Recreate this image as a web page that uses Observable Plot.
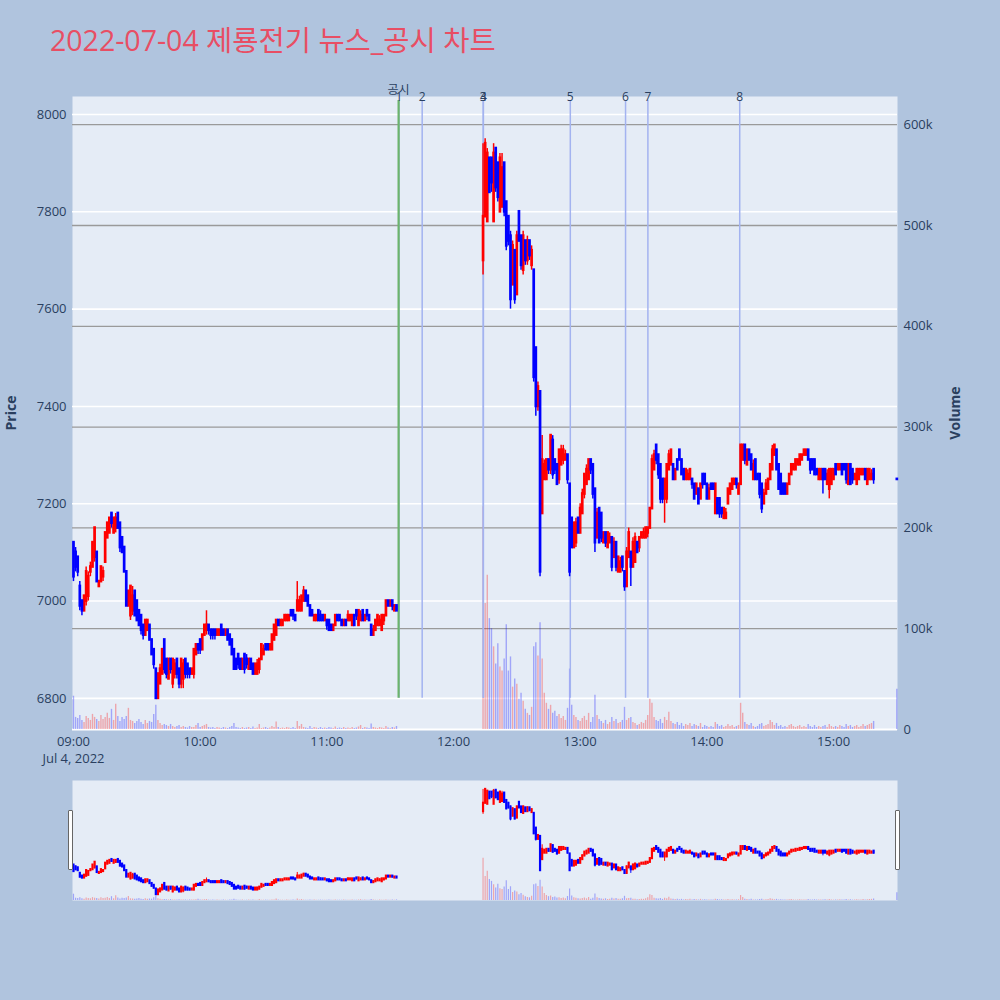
<!DOCTYPE html>
<html><head><meta charset="utf-8">
<script src="https://cdn.jsdelivr.net/npm/d3@7"></script>
<script src="https://cdn.jsdelivr.net/npm/@observablehq/plot@0.6"></script>
<style>
body{margin:0;background:#B0C4DE;}
#wrap{position:relative;width:1000px;height:1000px;background:#B0C4DE;overflow:hidden;font-family:"Open Sans",sans-serif;}
#wrap svg{position:absolute;left:0;}
.txt{position:absolute;white-space:nowrap;}
</style></head><body><div id="wrap"></div>
<script>
// ---------------- data ----------------
const sessionDate = "2022-07-04";
const morningStart = "09:00";
// [open, high, low, close] per minute from 09:00
const morningCandles = [
[7120,7120,7040,7050],[7100,7110,7060,7070],[7090,7090,7050,7060],[7030,7040,6980,6990],[7000,7000,6970,6980],[6980,7010,6980,7010],[7000,7070,6990,7060],[7010,7060,7000,7050],[7060,7080,7050,7070],[7070,7120,7070,7120],
[7090,7150,7080,7150],[7100,7100,7040,7040],[7030,7040,7030,7040],[7040,7070,7040,7070],[7050,7070,7040,7060],[7080,7140,7080,7140],[7130,7160,7130,7160],[7140,7170,7140,7170],[7180,7180,7150,7160],[7140,7170,7140,7170],
[7150,7180,7140,7170],[7180,7180,7150,7150],[7160,7160,7100,7110],[7130,7130,7100,7100],[7110,7110,7060,7060],[7060,7060,6990,6990],[6990,7020,6990,7020],[6970,7030,6960,7030],[6980,7030,6970,7010],[7020,7020,6970,6970],
[7000,7000,6960,6960],[6980,6980,6950,6950],[6970,6970,6930,6940],[6950,6950,6920,6930],[6930,6960,6930,6960],[6940,6960,6940,6960],[6950,6950,6920,6920],[6920,6920,6890,6890],[6900,6900,6860,6870],[6860,6860,6800,6800],
[6800,6850,6800,6850],[6830,6870,6830,6860],[6850,6900,6850,6900],[6920,6920,6850,6860],[6880,6880,6840,6850],[6840,6880,6840,6880],[6880,6880,6850,6860],[6830,6880,6820,6880],[6850,6880,6840,6870],[6880,6880,6840,6850],
[6860,6860,6820,6830],[6830,6880,6820,6880],[6840,6880,6820,6870],[6880,6880,6840,6850],[6870,6870,6840,6850],[6860,6860,6840,6850],[6850,6860,6850,6860],[6850,6900,6840,6900],[6890,6910,6890,6910],[6910,6910,6890,6900],
[6920,6920,6890,6900],[6900,6930,6900,6930],[6930,6950,6930,6950],[6940,6980,6930,6950],[6950,6950,6930,6940],[6940,6940,6920,6930],[6940,6940,6920,6930],[6940,6940,6920,6930],[6930,6940,6930,6940],[6930,6940,6930,6940],
[6950,6950,6930,6930],[6940,6940,6930,6930],[6930,6940,6930,6940],[6940,6940,6920,6920],[6930,6930,6910,6910],[6920,6920,6890,6890],[6900,6900,6860,6860],[6880,6880,6860,6860],[6890,6890,6860,6870],[6880,6880,6860,6860],
[6860,6880,6860,6880],[6890,6890,6850,6860],[6880,6890,6860,6870],[6860,6880,6860,6880],[6880,6880,6860,6860],[6870,6870,6850,6850],[6850,6870,6850,6870],[6850,6880,6850,6870],[6860,6880,6850,6880],[6880,6910,6880,6910],
[6890,6910,6890,6900],[6910,6910,6900,6900],[6910,6910,6900,6900],[6900,6910,6900,6910],[6900,6930,6900,6930],[6920,6950,6920,6950],[6930,6960,6930,6960],[6960,6960,6950,6950],[6950,6960,6950,6960],[6950,6960,6950,6960],
[6960,6970,6960,6970],[6960,6970,6960,6970],[6960,6970,6960,6970],[6980,6980,6970,6970],[6980,6980,6960,6970],[6970,6970,6960,6960],[6980,7040,6980,7000],[6980,7010,6980,7000],[6980,7010,6980,7010],[7000,7030,7000,7020],
[7020,7020,7000,7000],[7010,7010,6990,6990],[6990,6990,6970,6970],[6980,6980,6970,6970],[6960,6970,6960,6970],[6960,6970,6960,6970],[6980,6980,6960,6960],[6970,6980,6960,6960],[6970,6970,6960,6960],[6960,6970,6960,6970],
[6960,6960,6940,6950],[6960,6960,6940,6940],[6950,6950,6940,6940],[6940,6950,6940,6950],[6950,6970,6950,6970],[6970,6970,6960,6960],[6970,6970,6960,6960],[6960,6960,6950,6950],[6950,6960,6950,6960],[6960,6960,6950,6950],
[6960,6980,6960,6970],[6960,6970,6960,6970],[6950,6970,6950,6970],[6970,6970,6950,6950],[6980,6980,6960,6970],[6950,6980,6950,6980],[6960,6980,6960,6970],[6980,6980,6960,6960],[6960,6970,6960,6970],[6980,6980,6960,6970],
[6970,6970,6960,6960],[6950,6950,6930,6930],[6930,6950,6930,6940],[6940,6960,6940,6960],[6950,6970,6950,6970],[6950,6970,6950,6960],[6940,6970,6940,6970],[6960,6970,6950,6970],[6970,7000,6970,7000],[7000,7000,6990,6990],
[6990,7000,6990,7000],[7000,7000,6980,6990],[6980,6990,6980,6990],[6990,6990,6980,6980]
];
const morningVolume = [
33000,12000,11000,14000,9000,7000,13000,11000,9000,15000,
12000,10000,8000,14000,10000,12000,16000,11000,20000,9000,
25000,13000,8000,12000,10000,13000,21000,9000,8000,6000,
8000,10000,7000,5000,9000,6000,8000,7000,15000,24000,
9000,6000,4000,5000,4000,3000,5000,3000,2000,3000,
4000,2000,3000,2000,1500,3000,2000,2000,4000,6000,
2000,3000,4000,5000,2000,1500,2000,1000,2000,1500,
1000,2000,1500,1000,2000,3000,6000,2000,1500,1000,
2000,1000,1500,2000,1000,2500,1000,1500,5000,1000,
1500,2000,1000,1500,3000,2000,7500,2000,1000,1500,
1000,2000,1500,1000,2000,1000,8000,3000,5000,2000,
1500,1000,3000,1000,2000,1500,1000,2000,1000,1500,
1000,2000,1500,1000,2500,1000,1500,1000,2000,1000,
1500,1000,2000,1000,1500,2500,4000,1000,2000,1500,
1000,5500,2000,1500,1000,2000,1500,1000,3000,1500,
1000,2000,1500,3000
];
const afternoonStart = "12:14";
const afternoonCandles = [
[7700,7940,7670,7790],[7790,7950,7790,7940],[7780,7930,7780,7920],[7910,7910,7840,7840],[7910,7910,7840,7860],[7780,7940,7780,7920],[7930,7930,7840,7850],[7900,7900,7820,7830],[7800,7920,7800,7910],[7810,7920,7810,7890],
[7900,7900,7790,7800],[7820,7820,7720,7730],[7790,7790,7730,7740],[7750,7760,7600,7620],[7650,7740,7650,7730],[7720,7720,7610,7620],[7630,7760,7630,7750],[7800,7800,7740,7740],[7750,7750,7680,7690],[7680,7760,7670,7750],
[7740,7740,7690,7700],[7700,7750,7690,7740],[7740,7740,7700,7710],[7690,7730,7680,7720],[7680,7680,7450,7460],[7520,7520,7380,7400],[7400,7450,7390,7440],[7430,7430,7050,7060],[7180,7340,7180,7290],[7250,7290,7250,7280],
[7250,7290,7250,7290],[7290,7290,7260,7270],[7270,7340,7260,7340],[7330,7340,7250,7260],[7290,7290,7260,7270],[7280,7280,7240,7240],[7250,7310,7240,7310],[7280,7320,7280,7310],[7290,7320,7280,7310],[7290,7310,7290,7300],
[7300,7300,7240,7250],[7240,7240,7050,7060],[7170,7170,7110,7110],[7110,7160,7110,7160],[7120,7170,7110,7160],[7170,7170,7140,7140],[7140,7200,7140,7190],[7180,7230,7180,7220],[7220,7260,7210,7260],[7240,7280,7240,7270],
[7250,7290,7250,7290],[7290,7290,7260,7270],[7280,7280,7210,7220],[7230,7230,7100,7120],[7130,7190,7130,7180],[7190,7190,7120,7120],[7180,7180,7120,7130],[7120,7140,7120,7140],[7140,7140,7110,7120],[7110,7140,7110,7140],
[7120,7140,7120,7130],[7130,7130,7060,7070],[7090,7130,7090,7120],[7120,7120,7060,7070],[7060,7090,7060,7090],[7060,7090,7060,7080],[7090,7090,7060,7070],[7060,7060,7020,7030],[7030,7110,7030,7100],[7090,7150,7090,7140],
[7100,7100,7030,7070],[7070,7130,7070,7120],[7080,7140,7080,7130],[7120,7120,7100,7100],[7110,7130,7100,7130],[7130,7140,7130,7140],[7130,7150,7130,7140],[7130,7150,7130,7150],[7140,7150,7130,7150],[7150,7190,7150,7190],
[7190,7300,7190,7290],[7270,7310,7270,7300],[7320,7320,7280,7290],[7300,7300,7250,7260],[7280,7280,7200,7210],[7250,7250,7200,7210],[7210,7250,7160,7250],[7210,7280,7200,7280],[7270,7310,7270,7300],[7280,7310,7280,7310],
[7280,7280,7250,7250],[7250,7270,7250,7270],[7290,7290,7270,7270],[7310,7310,7290,7290],[7290,7290,7260,7260],[7270,7270,7250,7250],[7250,7270,7250,7270],[7250,7270,7250,7260],[7250,7270,7250,7270],[7250,7250,7230,7240],
[7240,7240,7210,7210],[7220,7240,7220,7240],[7230,7230,7200,7200],[7210,7240,7210,7240],[7260,7260,7230,7240],[7260,7260,7240,7240],[7240,7240,7210,7210],[7210,7240,7210,7230],[7240,7240,7230,7230],[7240,7240,7230,7230],
[7180,7240,7180,7240],[7210,7210,7180,7180],[7210,7210,7170,7180],[7190,7190,7170,7180],[7170,7190,7170,7190],[7170,7190,7170,7180],[7200,7230,7200,7230],[7220,7240,7220,7240],[7230,7250,7230,7250],[7240,7250,7240,7250],
[7250,7250,7230,7240],[7220,7240,7220,7240],[7240,7320,7240,7320],[7290,7320,7290,7320],[7320,7320,7280,7290],[7280,7310,7280,7310],[7310,7310,7290,7290],[7300,7300,7270,7270],[7250,7290,7250,7280],[7290,7290,7250,7250],
[7260,7260,7250,7250],[7260,7260,7210,7220],[7240,7240,7180,7190],[7200,7230,7200,7220],[7220,7250,7220,7240],[7230,7250,7230,7250],[7250,7280,7250,7280],[7270,7320,7270,7310],[7300,7320,7300,7320],[7310,7310,7270,7270],
[7280,7280,7230,7230],[7260,7260,7220,7220],[7240,7240,7220,7220],[7240,7240,7220,7220],[7220,7240,7220,7240],[7240,7260,7240,7260],[7260,7280,7260,7280],[7270,7280,7270,7280],[7270,7290,7270,7290],[7280,7290,7280,7290],
[7280,7300,7280,7300],[7290,7300,7290,7300],[7300,7310,7300,7310],[7300,7310,7300,7310],[7310,7310,7290,7290],[7290,7290,7260,7270],[7290,7290,7270,7270],[7290,7290,7260,7260],[7270,7270,7260,7260],[7250,7270,7250,7270],
[7250,7270,7250,7270],[7270,7270,7220,7250],[7270,7270,7250,7250],[7240,7270,7240,7260],[7230,7270,7210,7270],[7240,7270,7240,7270],[7250,7270,7250,7270],[7280,7280,7260,7260],[7270,7280,7270,7280],[7270,7280,7270,7280],
[7280,7280,7260,7260],[7280,7280,7270,7270],[7280,7280,7240,7250],[7240,7280,7240,7280],[7280,7280,7240,7240],[7270,7270,7240,7250],[7250,7260,7250,7260],[7240,7270,7240,7270],[7250,7270,7250,7270],[7260,7270,7260,7270],
[7260,7270,7260,7270],[7270,7270,7250,7250],[7240,7270,7240,7270],[7250,7270,7250,7270],[7250,7270,7250,7260],[7270,7270,7240,7250]
];
const afternoonVolume = [
221000,125000,153000,110000,100000,82000,65000,85000,62000,58000,
70000,104000,58000,72000,42000,50000,45000,30000,36000,28000,
20000,16000,14000,22000,82000,86000,73000,106000,70000,36000,
26000,20000,24000,16000,18000,13000,15000,11000,13000,9000,
21000,60000,24000,14000,12000,9000,8000,11000,13000,9000,
16000,7000,12000,34000,14000,10000,8000,6000,9000,5000,
7000,12000,8000,10000,6000,7000,9000,22000,9000,11000,
12000,7000,6000,4000,5000,7000,6000,9000,14000,30000,
26000,12000,9000,8000,10000,6000,12000,9000,17000,8000,
6000,5000,7000,4000,6000,3000,5000,4000,6000,3000,
5000,4000,3000,6000,2000,4000,3000,2000,3000,2000,
7000,5000,3000,4000,2000,3000,5000,3000,4000,2000,
3000,4000,26000,16000,7000,5000,4000,6000,3000,2000,
3000,5000,6000,3000,4000,5000,9000,7000,4000,6000,
3000,4000,2000,3000,2000,4000,5000,3000,2000,3000,
4000,2000,3000,2000,5000,3000,2000,4000,2000,3000,
2000,3000,4000,2000,5000,3000,2000,3000,2000,4000,
3000,2000,5000,3000,4000,2000,3000,4000,2000,3000,
5000,3000,4000,5000,6000,8000
];
const closingTime = "15:30";
const closingCandle = [7250,7250,7250,7250];
const closingVolume = 40000;

const newsTimes = ["11:34:10","11:45:10","12:14:05","12:14:10","12:55:20","13:21:30","13:32:05","14:15:35"];
const newsLabels = ["1","2","3","4","5","6","7","8"];
const disclosureTimes = ["11:34:00"];
const disclosureLabels = ["공시"];
const newsLineExtent = [6800, 8029];

const priceTicks = [6800,7000,7200,7400,7600,7800,8000];
const volumeTicks = [0,100000,200000,300000,400000,500000,600000];
const hourTicks = ["09:00","10:00","11:00","12:00","13:00","14:00","15:00"];
const dateLabel = "Jul 4, 2022";
const titleText = "2022-07-04 제룡전기 뉴스_공시 차트";

// ---------------- build ----------------
const at = (hm) => new Date(`${sessionDate}T${hm.length === 5 ? hm + ":00" : hm}Z`);
const rows = [];
function addSession(start, candles, vols) {
  const t0 = +at(start);
  candles.forEach((c, i) => rows.push({t: new Date(t0 + i * 60000), o: c[0], h: c[1], l: c[2], c: c[3], v: vols[i], up: c[3] > c[0]}));
}
addSession(morningStart, morningCandles, morningVolume);
addSession(afternoonStart, afternoonCandles, afternoonVolume);
addSession(closingTime, [closingCandle], [closingVolume]);
const upRows = rows.filter(d => d.up), dnRows = rows.filter(d => !d.up);
const news = newsTimes.map((t, i) => ({t: at(t), label: newsLabels[i]}));
const disc = disclosureTimes.map((t, i) => ({t: at(t), label: disclosureLabels[i]}));

const UP = "#ff0000", DN = "#0000ff";
const xDomain = [new Date(+at("09:00") - 28000), new Date(+at("15:30") + 19000)];
const priceDomain = [6736, 8037];
const volumeDomain = [0, 628000];
const fontFam = "'Open Sans', 'Noto Sans CJK KR', sans-serif";
const wrap = document.getElementById("wrap");

const mainFrame = {width: 1000, height: 780, marginTop: 96, marginLeft: 72, marginRight: 103, marginBottom: 51};
const sliderFrame = {width: 1000, height: 140, marginTop: 10, marginLeft: 72, marginRight: 103, marginBottom: 10};
const baseStyle = {background: "transparent", color: "#2a3f5f", fontFamily: fontFam, overflow: "visible"};

function place(svg, top) { svg.style.top = top + "px"; wrap.appendChild(svg); }

function candleMarks(bodyW, wickW) {
  return [
    Plot.ruleX(upRows, {x: "t", y1: "l", y2: "h", stroke: UP, strokeWidth: wickW}),
    Plot.ruleX(dnRows, {x: "t", y1: "l", y2: "h", stroke: DN, strokeWidth: wickW}),
    Plot.ruleX(upRows, {x: "t", y1: "o", y2: "c", stroke: UP, strokeWidth: bodyW, strokeLinecap: "square"}),
    Plot.ruleX(dnRows, {x: "t", y1: "o", y2: "c", stroke: DN, strokeWidth: bodyW, strokeLinecap: "square"})
  ];
}
function volumeMarks(w, op) {
  return [
    Plot.ruleX(upRows, {x: "t", y1: 0, y2: "v", stroke: UP, strokeOpacity: op, strokeWidth: w}),
    Plot.ruleX(dnRows, {x: "t", y1: 0, y2: "v", stroke: DN, strokeOpacity: op, strokeWidth: w})
  ];
}

// main: price background + grid + left axis
place(Plot.plot({
  ...mainFrame, style: baseStyle,
  x: {type: "utc", domain: xDomain, axis: null},
  y: {domain: priceDomain, axis: null},
  marks: [
    Plot.frame({fill: "#E5ECF6", stroke: "none"}),
    Plot.gridY(priceTicks, {stroke: "#ffffff", strokeOpacity: 1, strokeWidth: 1.6}),
    Plot.axisY(priceTicks, {anchor: "left", tickSize: 0, tickPadding: 6, fontSize: 13, label: null, tickFormat: d => `${d}`})
  ]
}), 0);

// main: volume overlay + right axis
place(Plot.plot({
  ...mainFrame, style: baseStyle,
  x: {type: "utc", domain: xDomain, axis: null},
  y: {domain: volumeDomain, axis: null},
  marks: [
    Plot.ruleY([0], {stroke: "#ffffff", strokeWidth: 2}),
    Plot.gridY(volumeTicks.filter(v => v > 0), {stroke: "#9a9a9a", strokeOpacity: 1, strokeWidth: 1.3}),
    ...volumeMarks(1.4, 0.3),
    Plot.axisY(volumeTicks, {anchor: "right", tickSize: 0, tickPadding: 6, fontSize: 13, label: null, tickFormat: d => d === 0 ? "0" : `${d / 1000}k`})
  ]
}), 0);

// main: candles, event lines, labels, x axis
place(Plot.plot({
  ...mainFrame, style: baseStyle,
  x: {type: "utc", domain: xDomain, axis: null},
  y: {domain: priceDomain, axis: null},
  marks: [
    Plot.ruleX(news, {x: "t", y1: newsLineExtent[0], y2: newsLineExtent[1], stroke: "#a3b3f0", strokeWidth: 1.5}),
    Plot.ruleX(disc, {x: "t", y1: newsLineExtent[0], y2: newsLineExtent[1], stroke: "#6cb46c", strokeWidth: 2.2}),
    ...candleMarks(2.7, 1.5),
    Plot.text(news, {x: "t", text: "label", frameAnchor: "top", lineAnchor: "middle", dy: 1, fontSize: 12, fill: "#2a3f5f"}),
    Plot.text(disc, {x: "t", text: "label", frameAnchor: "top", lineAnchor: "middle", dy: -6, fontSize: 12, fill: "#2a3f5f"}),
    Plot.axisX(hourTicks.map(at), {anchor: "bottom", tickSize: 0, tickPadding: 7, fontSize: 13, label: null, tickFormat: d3.utcFormat("%H:%M")}),
    Plot.text([dateLabel], {x: () => at(hourTicks[0]), text: d => d, frameAnchor: "bottom", lineAnchor: "middle", dy: 29, fontSize: 13, fill: "#2a3f5f"})
  ]
}), 0);

// range slider
place(Plot.plot({
  ...sliderFrame, style: baseStyle,
  x: {type: "utc", domain: xDomain, axis: null},
  y: {domain: priceDomain, axis: null},
  marks: [Plot.frame({fill: "#E5ECF6", stroke: "none"})]
}), 770);
place(Plot.plot({
  ...sliderFrame, style: baseStyle,
  x: {type: "utc", domain: xDomain, axis: null},
  y: {domain: volumeDomain, axis: null},
  marks: [...volumeMarks(1.2, 0.3)]
}), 770);
place(Plot.plot({
  ...sliderFrame, style: baseStyle,
  x: {type: "utc", domain: xDomain, axis: null},
  y: {domain: priceDomain, axis: null},
  marks: [...candleMarks(2.2, 1)]
}), 770);

// slider handles, titles
function addDiv(css, text) { const d = document.createElement("div"); d.className = "txt"; d.style.cssText = css; if (text) d.textContent = text; wrap.appendChild(d); }
addDiv("left:68px;top:810px;width:3px;height:58px;background:#fff;border:1px solid #666;border-radius:1px;");
addDiv("left:895px;top:810px;width:3px;height:58px;background:#fff;border:1px solid #666;border-radius:1px;");
addDiv(`left:50px;top:26px;font-size:28.5px;line-height:28px;color:#e84e64;font-family:${fontFam};`, titleText);
addDiv(`left:10px;top:413px;transform:translate(-50%,-50%) rotate(-90deg);font-size:14px;font-weight:bold;color:#2a3f5f;font-family:${fontFam};`, "Price");
addDiv(`left:954px;top:413px;transform:translate(-50%,-50%) rotate(-90deg);font-size:14px;font-weight:bold;color:#2a3f5f;font-family:${fontFam};`, "Volume");
</script></body></html>
